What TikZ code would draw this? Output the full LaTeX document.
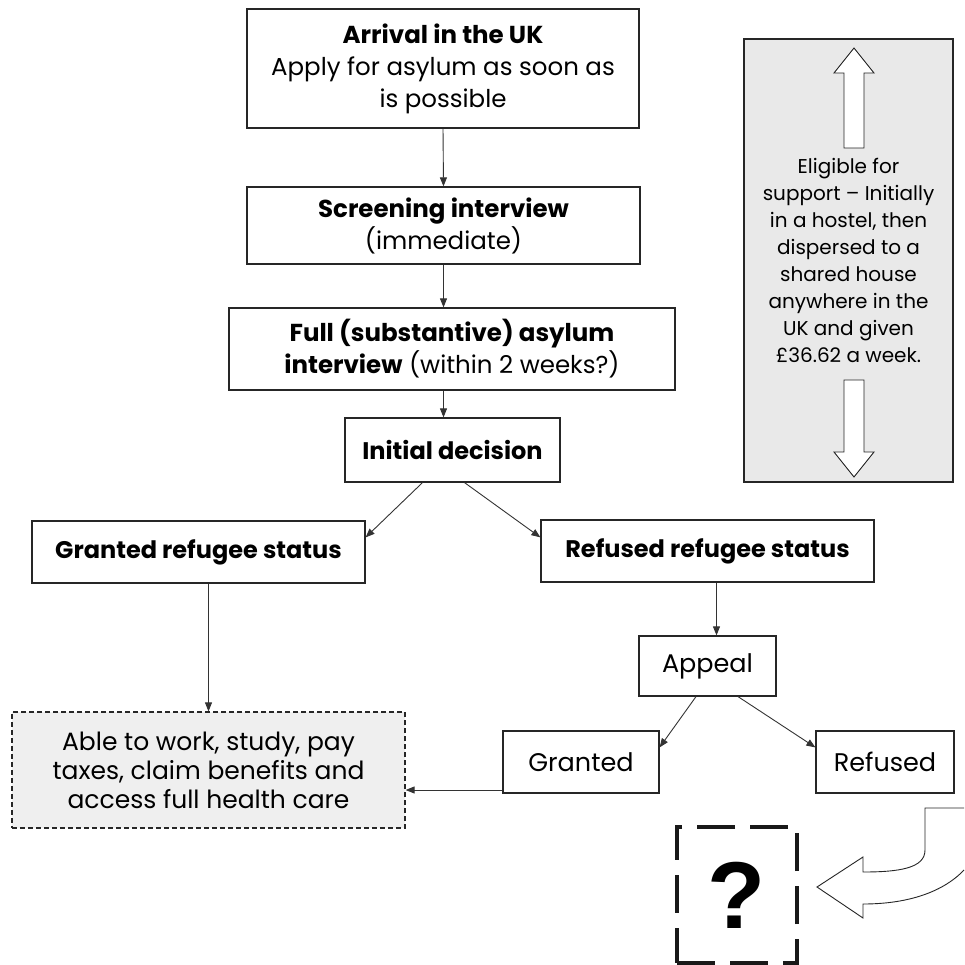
\documentclass[tikz,border=0pt]{standalone}
\usepackage{fontspec}
\setmainfont{Poppins}
\newfontfamily\qfont{Liberation Sans}
\usetikzlibrary{arrows.meta}
\definecolor{boxgrey}{HTML}{E9E9E9}
\definecolor{dashgrey}{HTML}{EFEFEF}
\tikzset{
  stagebox/.style={draw=black!85, line width=1.2pt, inner sep=0pt, align=center,
    font=\fontsize{24.5}{32}\selectfont},
  lowbox/.style={stagebox, font=\fontsize{25.5}{29}\selectfont},
  flow/.style={draw=black!80, line width=0.9pt, -{Triangle[length=9pt,width=7pt]}},
  hollow/.style={draw=black!85, line width=0.9pt, fill=white, line join=miter}
}
\begin{document}
\begin{tikzpicture}[x=1pt,y=-1pt]
  \useasboundingbox (0,0) rectangle (964,965);
  % main column
  \node[stagebox, minimum width=392pt, minimum height=119pt] (arr) at (443,68.5)
    {\textbf{Arrival in the UK}\\Apply for asylum as soon as\\is possible};
  \node[stagebox, minimum width=393pt, minimum height=77pt] (scr) at (443.5,225.5)
    {\textbf{Screening interview}\\(immediate)};
  \node[stagebox, minimum width=446pt, minimum height=82pt] (full) at (452,349)
    {\textbf{Full (substantive) asylum}\\\textbf{interview} (within 2 weeks?)};
  \node[lowbox, font=\fontsize{24}{29}\selectfont, minimum width=215pt, minimum height=64pt] (dec) at (452.5,450)
    {\textbf{Initial decision}};
  \node[lowbox, font=\fontsize{24}{29}\selectfont, minimum width=333pt, minimum height=62pt] (grs) at (198.5,552)
    {\textbf{Granted refugee status}};
  \node[lowbox, font=\fontsize{24}{29}\selectfont, minimum width=333pt, minimum height=62pt] (rrs) at (707.5,551)
    {\textbf{Refused refugee status}};
  \node[lowbox, minimum width=137pt, minimum height=60pt] (app) at (707.5,666) {Appeal};
  \node[lowbox, minimum width=156pt, minimum height=62pt] (grt) at (581,762) {Granted};
  \node[lowbox, minimum width=138pt, minimum height=62pt] (ref) at (885,762) {Refused};
  \node[lowbox, font=\fontsize{25}{29}\selectfont, dash pattern=on 5pt off 3pt, fill=dashgrey,
    minimum width=393pt, minimum height=116pt] (able) at (208.5,770)
    {Able to work, study, pay\\taxes, claim benefits and\\access full health care};
  \node[draw=black!90, line width=4pt, dash pattern=on 38pt off 15pt, minimum width=120pt,
    minimum height=136pt, font=\qfont\bfseries\fontsize{95}{95}\selectfont] (what) at (737,895) {?};
  % support box
  \node[draw=black!85, line width=1.2pt, fill=boxgrey, minimum width=209pt, minimum height=443pt,
    align=center, font=\fontsize{20}{27}\selectfont] (supp) at (848.5,260.5)
    {Eligible for\\support -- Initially\\in a hostel, then\\dispersed to a\\shared house\\anywhere in the\\UK and given\\\pounds36.62 a week.};
  \draw[hollow] (844,148) -- (844,73) -- (834,73) -- (854,48) -- (874,73) -- (864,73) -- (864,148) -- cycle;
  \draw[hollow] (844,380) -- (844,452) -- (834,452) -- (854,477) -- (874,452) -- (864,452) -- (864,380) -- cycle;
  % connectors
  \draw[flow] (arr.south) -- (scr.north);
  \draw[flow] (scr.south) -- (scr.south |- full.north);
  \draw[flow] (scr.south |- full.south) -- (scr.south |- dec.north);
  \draw[flow] ([xshift=-30pt]dec.south) -- ([yshift=-17pt]grs.north east);
  \draw[flow] ([xshift=12pt]dec.south) -- ([yshift=-18pt]rrs.north west);
  \draw[flow] (grs.south -| able.north) -- (able.north);
  \draw[flow] ([xshift=9pt]rrs.south) -- ([xshift=9pt]app.north);
  \draw[flow] ([xshift=-11.5pt]app.south) -- ([yshift=-17pt]grt.north east);
  \draw[flow] ([xshift=30.5pt]app.south) -- ([yshift=-17pt]ref.north west);
  \draw[flow] ([yshift=-28pt]grt.west) -- ([yshift=-28pt]grt.west -| able.east);
  % curved arrow to the question
  \draw[hollow] (964,808) -- (925,808) -- (925,850) .. controls (925,868) and (900,872) .. (863,872)
    -- (863,857) -- (817,887) -- (863,918) -- (863,904) .. controls (920,904) and (950,885) .. (964,870);
\end{tikzpicture}
\end{document}
